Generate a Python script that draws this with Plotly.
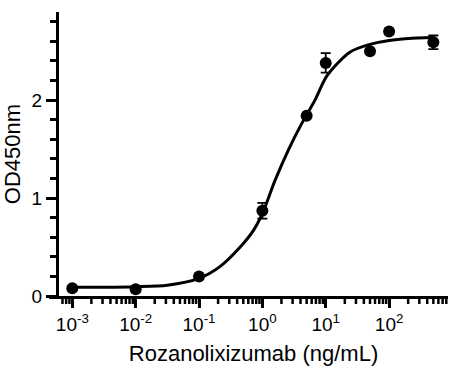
import plotly.graph_objects as go

# Measured data points
conc = [0.001, 0.01, 0.1, 1, 5, 10, 50, 100, 500]
od450 = [0.08, 0.07, 0.20, 0.87, 1.84, 2.38, 2.50, 2.70, 2.59]
od_err = [0.0, 0.0, 0.0, 0.08, 0.0, 0.10, 0.0, 0.0, 0.07]

# Fitted curve
curve_conc = [0.001, 0.00316, 0.01, 0.0316, 0.1, 0.214, 0.447, 0.724, 1.0, 1.585,
              2.57, 4.17, 6.76, 10.5, 24.0, 50.1, 100, 200, 500]
curve_od = [0.09, 0.09, 0.095, 0.11, 0.18, 0.30, 0.50, 0.67, 0.84, 1.18,
            1.49, 1.76, 2.00, 2.25, 2.49, 2.57, 2.61, 2.63, 2.64]

x_tickvals = [0.001, 0.01, 0.1, 1, 10, 100]
x_ticktext = ["10<sup>-3</sup>", "10<sup>-2</sup>", "10<sup>-1</sup>",
              "10<sup>0</sup>", "10<sup>1</sup>", "10<sup>2</sup>"]
minor_x = [m * 10 ** e for e in range(-4, 3) for m in range(2, 10)
           if 7e-4 <= m * 10 ** e <= 900]

X_RANGE = [-3.21, 2.93]
Y_RANGE = [0, 2.9]
FONT = "Liberation Sans, Arial, sans-serif"

W, H = 459, 380
ML, MR, MT, MB = 49, 11, 12, 84
PW, PH = W - ML - MR, H - MT - MB
X_DOM0 = 10 / PW           # x axis data range starts at the y axis, 10 px in
MINOR_LEN = 6
LINE_W = 3

fig = go.Figure()
fig.add_trace(go.Scatter(x=curve_conc, y=curve_od, mode="lines",
                         line=dict(color="black", width=3, shape="spline", smoothing=0.8),
                         showlegend=False, hoverinfo="skip"))
fig.add_trace(go.Scatter(x=conc, y=od450, mode="markers",
                         marker=dict(color="black", size=12),
                         error_y=dict(type="data", array=od_err, color="black",
                                      thickness=1.8, width=5),
                         showlegend=False))

# axis decoration: x minor ticks and the stub of x axis left of the y axis
shapes = [dict(type="line", xref="paper", yref="paper", x0=0, x1=X_DOM0,
               y0=-(LINE_W / 2) / PH, y1=-(LINE_W / 2) / PH,
               line=dict(color="black", width=LINE_W))]
for v in minor_x:
    shapes.append(dict(type="line", xref="x", yref="paper", x0=v, x1=v,
                       y0=0, y1=-(LINE_W + MINOR_LEN - 1) / PH,
                       line=dict(color="black", width=2.5)))

common = dict(tickcolor="black", tickwidth=2.5, showgrid=False, zeroline=False,
              automargin=False, showline=True, linecolor="black", linewidth=LINE_W,
              ticks="outside")

fig.update_layout(
    width=W, height=H,
    margin=dict(l=ML, r=MR, t=MT, b=MB),
    paper_bgcolor="white", plot_bgcolor="white",
    font=dict(family=FONT, color="black", size=19),
    shapes=shapes,
    xaxis=dict(
        type="log", range=X_RANGE, domain=[X_DOM0, 1],
        tickmode="array", tickvals=x_tickvals, ticktext=x_ticktext,
        ticklen=9,
        title=dict(text="Rozanolixizumab (ng/mL)", font=dict(size=22), standoff=12),
        tickfont=dict(size=19),
        **common,
    ),
    yaxis=dict(
        range=Y_RANGE,
        tickmode="linear", tick0=0, dtick=1,
        ticklen=10,
        minor=dict(tick0=0, dtick=0.2, ticks="outside", ticklen=MINOR_LEN,
                   tickwidth=2.5, tickcolor="black", showgrid=False),
        title=dict(text="OD450nm", font=dict(size=22), standoff=8),
        tickfont=dict(size=19),
        **common,
    ),
)

fig.write_html("out.html",
               config={"displayModeBar": False},
               post_script="document.body.style.margin='0';"
                           "document.body.style.overflow='hidden';")
